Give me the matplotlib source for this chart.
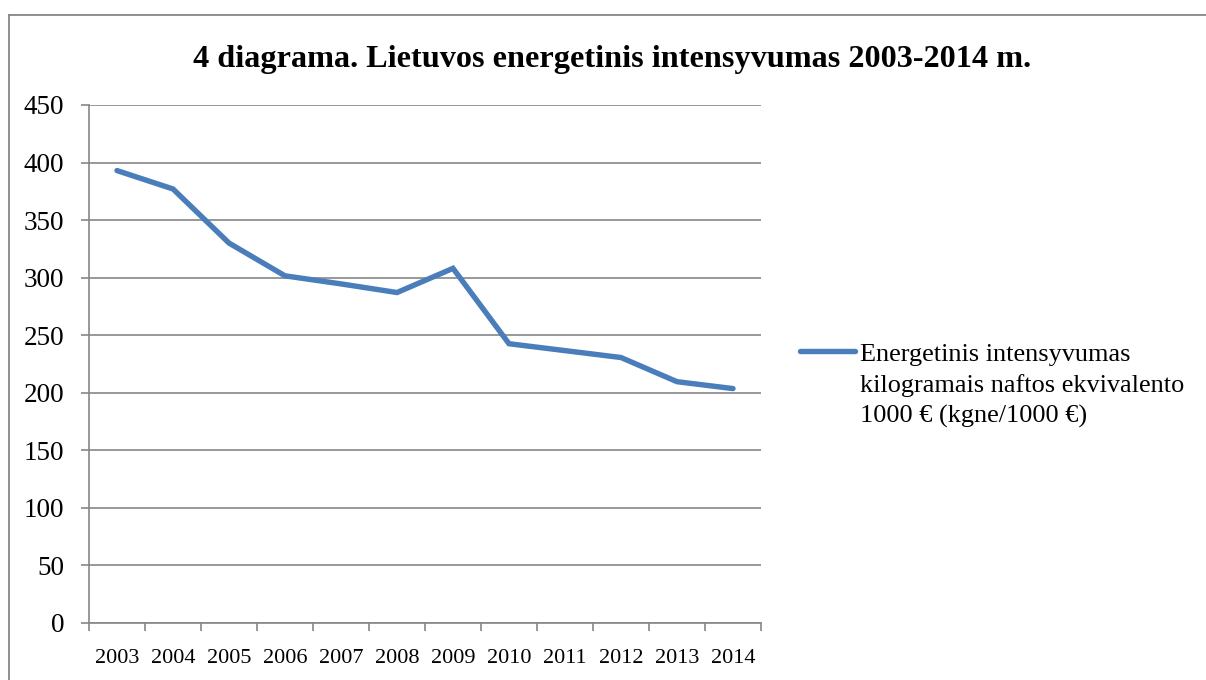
import matplotlib
matplotlib.use("Agg")
import matplotlib.pyplot as plt
from matplotlib.lines import Line2D
import numpy as np

years = ["2003", "2004", "2005", "2006", "2007", "2008",
         "2009", "2010", "2011", "2012", "2013", "2014"]
intensity = [393, 377, 330, 301.5, 294.5, 287, 308, 242.5, 236.5, 230.5, 209.5, 203.5]
y_ticks = [0, 50, 100, 150, 200, 250, 300, 350, 400, 450]
title = "4 diagrama. Lietuvos energetinis intensyvumas 2003-2014 m."
series_label = "Energetinis intensyvumas\nkilogramais naftos ekvivalento\n1000 € (kgne/1000 €)"

plt.rcParams['font.family'] = ['Liberation Serif', 'DejaVu Serif']

W, H = 1206, 680
fig = plt.figure(figsize=(W / 100, H / 100), dpi=100)
ax = fig.add_axes([89 / W, 1 - 622.7 / H, (761 - 89) / W, (622.7 - 105) / H])

grid_c = '#868686'
line_c = '#4a7ebb'

x = np.arange(len(years))
ax.plot(x, intensity, color=line_c, lw=3.9, solid_joinstyle='miter',
        solid_capstyle='round', zorder=3)

ax.set_xlim(-0.5, len(years) - 0.5)
ax.set_ylim(y_ticks[0], y_ticks[-1])
ax.set_yticks(y_ticks)
ax.set_yticklabels([str(t) for t in y_ticks], fontsize=19.5)
ax.yaxis.grid(True, color=grid_c, lw=1.2)
ax.set_axisbelow(True)

ax.set_xticks(np.arange(len(years) + 1) - 0.5)
ax.set_xticklabels([])
ax.set_xticks(x, minor=True)
ax.set_xticklabels(years, minor=True, fontsize=16)
ax.tick_params(axis='x', which='minor', length=0, pad=19)
ax.tick_params(axis='x', which='major', length=6, color=grid_c, width=1.2)
ax.tick_params(axis='y', length=6, color=grid_c, width=1.2, pad=12)

for s in ['top', 'right']:
    ax.spines[s].set_visible(False)
for s in ['left', 'bottom']:
    ax.spines[s].set_color(grid_c)
    ax.spines[s].set_linewidth(1.2)

fig.text((195 + 1030) / 2 / W, 1 - 60 / H, title, ha='center', va='center',
         fontsize=23.2, fontweight='bold')

# legend
fig.add_artist(Line2D([800 / W, 855 / W], [1 - 351 / H, 1 - 351 / H],
                      color=line_c, lw=3.9, solid_capstyle='round'))
fig.text(860 / W, 1 - 344 / H, series_label, ha='left', va='top',
         fontsize=18.9, linespacing=1.46)

# outer frame
fig.add_artist(Line2D([8.5 / W, 1.0], [1 - 14.5 / H, 1 - 14.5 / H],
                      color=grid_c, lw=1.3))
fig.add_artist(Line2D([8.5 / W, 8.5 / W], [0, 1 - 14.5 / H],
                      color=grid_c, lw=1.3))

fig.savefig("out.png", dpi=100)
